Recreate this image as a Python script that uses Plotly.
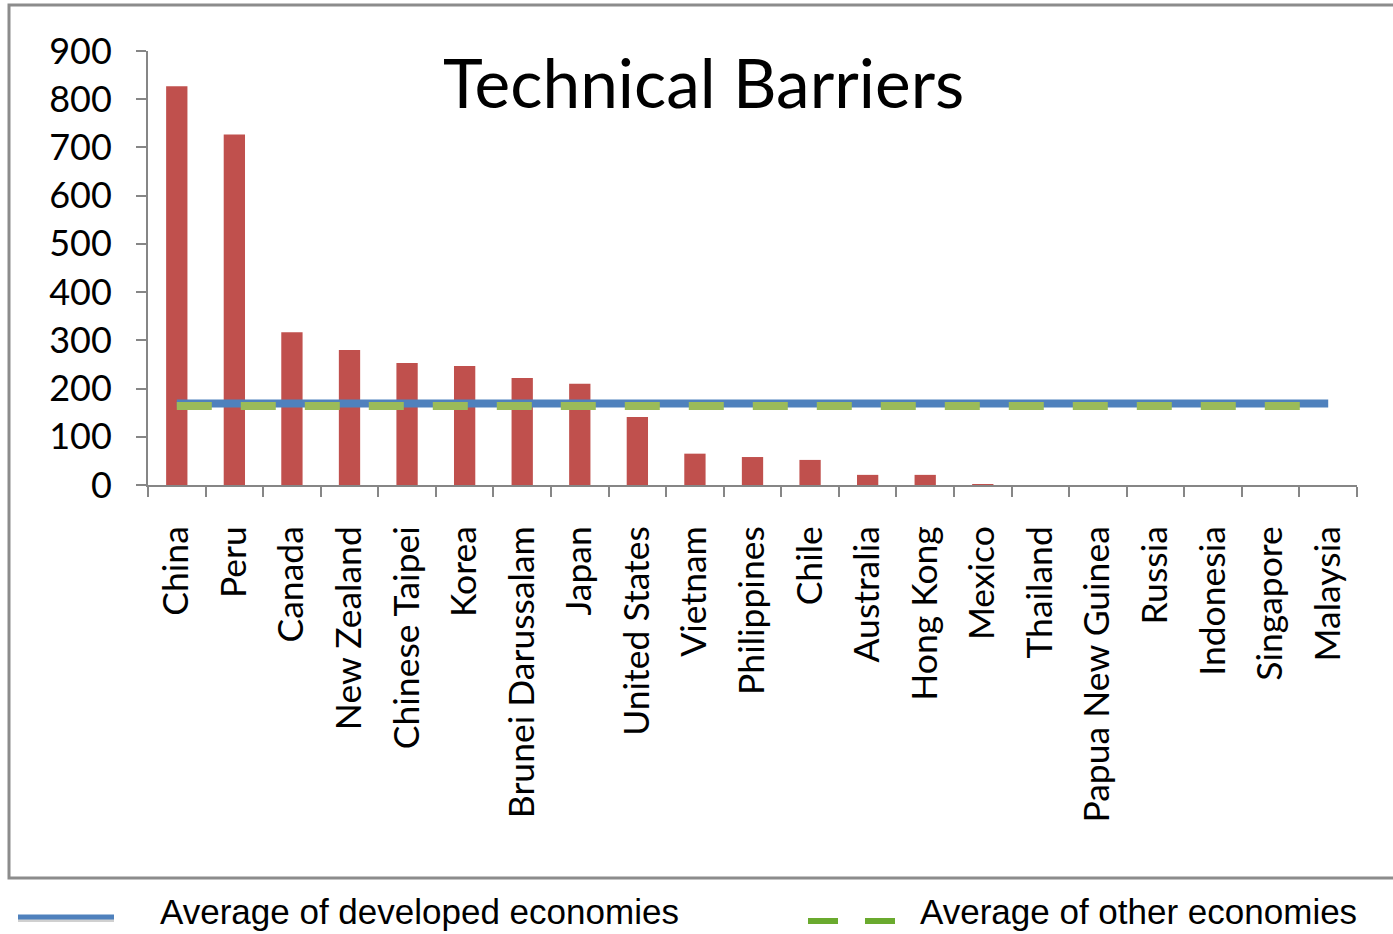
import plotly.graph_objects as go

# Economies and counts of technical-barrier measures
economies = [
    "China", "Peru", "Canada", "New Zealand", "Chinese Taipei", "Korea",
    "Brunei Darussalam", "Japan", "United States", "Vietnam", "Philippines",
    "Chile", "Australia", "Hong Kong", "Mexico", "Thailand",
    "Papua New Guinea", "Russia", "Indonesia", "Singapore", "Malaysia",
]
barrier_counts = [827, 727, 317, 280, 253, 247, 222, 210, 141, 65, 58,
                  52, 21, 21, 2, 0, 0, 0, 0, 0, 0]

developed_avg = 169
other_avg = 164

y_ticks = [0, 100, 200, 300, 400, 500, 600, 700, 800, 900]

W, H = 1393, 934
L, R, T, B = 148, 36, 51, 449
PW, PH = W - L - R, H - T - B


def px(x):
    return (x - L) / PW


def py(y):
    return (H - B - y) / PH


BLUE = "#4F81BD"
GREEN = "#9BBB59"
RED = "#C0504D"
GREY = "#868686"

fig = go.Figure()

fig.add_trace(go.Bar(
    x=economies, y=barrier_counts, width=0.37,
    marker=dict(color=RED, line=dict(width=0)),
    showlegend=False,
))

fig.add_trace(go.Scatter(
    x=economies, y=[developed_avg] * len(economies), mode="lines",
    line=dict(color=BLUE, width=8), showlegend=False,
))

fig.add_trace(go.Scatter(
    x=economies, y=[other_avg] * len(economies), mode="lines",
    line=dict(color=GREEN, width=8, dash="35px,29px"), showlegend=False,
))

shapes = [
    # outer chart frame
    dict(type="rect", xref="paper", yref="paper",
         x0=px(9), x1=px(1420), y0=py(878), y1=py(5),
         line=dict(color="#8C8C8C", width=3), fillcolor="rgba(0,0,0,0)",
         layer="below"),
    # legend key: developed economies
    dict(type="line", xref="paper", yref="paper",
         x0=px(18), x1=px(114), y0=py(920), y1=py(920),
         line=dict(color="#D0D0D0", width=4)),
    dict(type="line", xref="paper", yref="paper",
         x0=px(18), x1=px(114), y0=py(917), y1=py(917),
         line=dict(color=BLUE, width=5)),
    # legend key: other economies
    dict(type="line", xref="paper", yref="paper",
         x0=px(808), x1=px(838), y0=py(921), y1=py(921),
         line=dict(color="#6AAA2E", width=6)),
    dict(type="line", xref="paper", yref="paper",
         x0=px(865), x1=px(895), y0=py(921), y1=py(921),
         line=dict(color="#6AAA2E", width=6)),
]

LEGEND_FONT = dict(family="Liberation Sans, Arial", size=35, color="black")

annotations = [
    dict(text="Technical Barriers", xref="paper", yref="paper",
         x=px(703), y=py(81), xanchor="center", yanchor="middle",
         showarrow=False, font=dict(family="Lato", size=67.5, color="black")),
    dict(text="Average of developed economies", xref="paper", yref="paper",
         x=px(158), y=py(911), xanchor="left", yanchor="middle",
         showarrow=False, font=LEGEND_FONT),
    dict(text="Average of other economies", xref="paper", yref="paper",
         x=px(918), y=py(911), xanchor="left", yanchor="middle",
         showarrow=False, font=LEGEND_FONT),
]

fig.update_layout(
    width=W, height=H,
    margin=dict(l=L, r=R, t=T, b=B, pad=0),
    paper_bgcolor="white", plot_bgcolor="white",
    bargap=0.63,
    shapes=shapes, annotations=annotations,
    font=dict(family="Lato", color="black"),
)

fig.update_xaxes(
    type="category", categoryorder="array", categoryarray=economies,
    showline=True, linecolor=GREY, linewidth=2,
    ticks="outside", tickson="boundaries", ticklen=10, tickwidth=2,
    tickcolor=GREY, tickangle=-90, ticklabelstandoff=25,
    tickfont=dict(family="Lato", size=35.5, color="black"),
    showgrid=False, zeroline=False,
)

fig.update_yaxes(
    range=[0, 900], tickvals=y_ticks, ticktext=[str(v) for v in y_ticks],
    showline=True, linecolor=GREY, linewidth=2,
    ticks="outside", ticklen=10, tickwidth=2, tickcolor=GREY,
    ticklabelstandoff=17,
    tickfont=dict(family="Lato", size=36, color="black"),
    showgrid=False, zeroline=False,
)

fig.write_html("out.html")
